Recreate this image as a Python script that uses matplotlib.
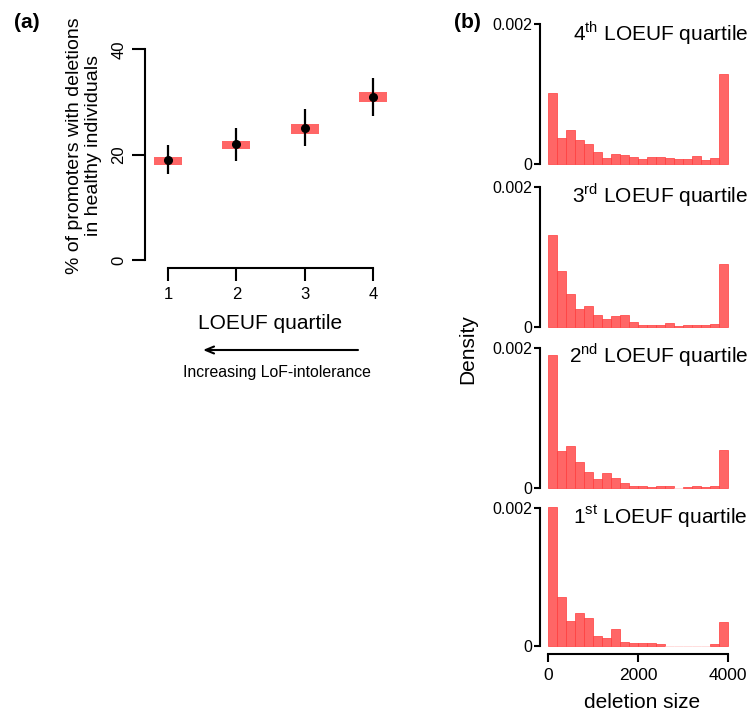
import matplotlib
matplotlib.use('Agg')
import matplotlib.pyplot as plt
import numpy as np

plt.rcParams['font.family'] = ['Liberation Sans', 'DejaVu Sans']
plt.rcParams['mathtext.fontset'] = 'custom'
plt.rcParams['mathtext.rm'] = 'Liberation Sans'

# panel (a): % of promoters with deletions per LOEUF quartile
quartiles = [1, 2, 3, 4]
pct = [19.0, 22.0, 25.0, 31.0]
err_lo = [16.3, 18.8, 21.6, 27.3]
err_hi = [21.8, 25.0, 28.7, 34.6]
box_lo = [18.1, 21.0, 24.0, 30.0]
box_hi = [19.5, 22.6, 25.8, 31.9]

# panel (b): deletion size densities, 20 bins of 200 bp from 0 to 4000
bin_edges = np.arange(0, 4001, 200)
density_q4 = [0.00101, 0.000376, 0.000488, 0.000347, 0.000291, 0.000174, 0.00008,
              0.000146, 0.000131, 0.000094, 0.000066, 0.000094, 0.000094, 0.00008,
              0.000066, 0.000066, 0.000108, 0.000052, 0.00008, 0.00128]
density_q3 = [0.00132, 0.000806, 0.000479, 0.000265, 0.000303, 0.00018, 0.000123,
              0.000166, 0.00018, 0.00008, 0.000038, 0.000038, 0.000038, 0.000066,
              0.000024, 0.000038, 0.000038, 0.000038, 0.000052, 0.000905]
density_q2 = [0.00189, 0.000536, 0.000607, 0.00038, 0.000237, 0.000137, 0.000223,
              0.000152, 0.00008, 0.000038, 0.000038, 0.000024, 0.000038, 0.000038,
              0.0, 0.000024, 0.000038, 0.000024, 0.000038, 0.00055]
density_q1 = [0.00202, 0.000712, 0.000353, 0.000482, 0.000396, 0.000138, 0.00011,
              0.000239, 0.000052, 0.000038, 0.000038, 0.000038, 0.000024, 0.0,
              0.0, 0.0, 0.0, 0.0, 0.000024, 0.00034]
hist_titles = [r'4$^{\mathrm{th}}$ LOEUF quartile', r'3$^{\mathrm{rd}}$ LOEUF quartile',
               r'2$^{\mathrm{nd}}$ LOEUF quartile', r'1$^{\mathrm{st}}$ LOEUF quartile']

W, H = 751, 713
PINK = '#ff6666'
fig = plt.figure(figsize=(W / 100, H / 100), dpi=100)


def px_axes(x0, y0, x1, y1):
    # pixel box (top-left origin) -> axes
    return fig.add_axes([x0 / W, 1 - y1 / H, (x1 - x0) / W, (y1 - y0) / H])


# ---- panel (a)
ax = px_axes(168, 49.3, 373, 260)
ax.set_xlim(1, 4)
ax.set_ylim(0, 40)
for q, lo, hi in zip(quartiles, box_lo, box_hi):
    ax.add_patch(plt.Rectangle((q - 0.205, lo), 0.41, hi - lo, color=PINK,
                               lw=0, clip_on=False))
ax.vlines(quartiles, err_lo, err_hi, color='black', lw=1.6, clip_on=False)
ax.plot(quartiles, pct, 'o', color='black', ms=5.5, clip_on=False)
for s in ['top', 'right']:
    ax.spines[s].set_visible(False)
ax.spines['left'].set_position(('outward', 16.6))
ax.spines['bottom'].set_position(('outward', 6))
ax.spines['left'].set_bounds(0, 40)
ax.spines['bottom'].set_bounds(1, 4)
for s in ['left', 'bottom']:
    ax.spines[s].set_linewidth(1.5)
ax.set_yticks([0, 20, 40])
ax.set_yticklabels(['0', '20', '40'], rotation=90, va='center')
ax.set_xticks(quartiles)
ax.tick_params(width=1.5, length=9.5, labelsize=12, pad=4)
ax.patch.set_visible(False)

fig.text(84 / W, 1 - 146 / H, '% of promoters with deletions\nin healthy individuals',
         rotation=90, ha='center', va='center', fontsize=14, linespacing=1.1)
fig.text(270 / W, 1 - 323 / H, 'LOEUF quartile', ha='center', va='center', fontsize=15)
ax.annotate('', xy=(203, H - 350), xytext=(358, H - 350),
            xycoords='figure pixels', textcoords='figure pixels',
            arrowprops=dict(arrowstyle='->,head_length=0.6,head_width=0.25',
                            color='black', lw=1.5, shrinkA=0, shrinkB=0))
fig.text(277 / W, 1 - 372 / H, 'Increasing LoF-intolerance', ha='center', va='center',
         fontsize=11.4)
fig.text(27 / W, 1 - 22 / H, '(a)', ha='center', va='center', fontsize=15,
         fontweight='bold')

# ---- panel (b)
boxes = [(24, 164), (187, 327.3), (347.7, 488.3), (508.3, 645.7)]
title_y = [33, 195, 355, 517]
densities = [density_q4, density_q3, density_q2, density_q1]
for i, (dens, (y0, y1)) in enumerate(zip(densities, boxes)):
    hx = px_axes(548, y0, 728, y1)
    edges = ['#ff3b3b' if d > 0 else '#ffd0d0' for d in dens]
    hx.bar(bin_edges[:-1], dens, width=200, align='edge', color=PINK,
           edgecolor=edges, lw=0.5, clip_on=False)
    hx.set_xlim(0, 4000)
    hx.set_ylim(0, 0.002)
    for s in ['top', 'right']:
        hx.spines[s].set_visible(False)
    hx.spines['left'].set_position(('outward', 5.8))
    hx.spines['left'].set_linewidth(1.5)
    hx.set_yticks([0, 0.002])
    hx.set_yticklabels(['0', '0.002'])
    hx.tick_params(axis='y', width=1.5, length=4.3, labelsize=11.5, pad=1.5)
    if i == 3:
        hx.spines['bottom'].set_position(('outward', 6))
        hx.spines['bottom'].set_linewidth(1.5)
        hx.set_xticks([0, 2000, 4000])
        hx.tick_params(axis='x', width=1.5, length=5.8, labelsize=12.5, pad=4)
    else:
        hx.spines['bottom'].set_visible(False)
        hx.set_xticks([])
    hx.patch.set_visible(False)
    fig.text(748 / W, 1 - title_y[i] / H, hist_titles[i], ha='right', va='center',
             fontsize=15)

fig.text(468 / W, 1 - 349 / H, 'Density', rotation=90, ha='center', va='center',
         fontsize=15)
fig.text(642 / W, 1 - 702 / H, 'deletion size', ha='center', va='center', fontsize=15)
fig.text(467 / W, 1 - 22 / H, '(b)', ha='center', va='center', fontsize=15,
         fontweight='bold')

fig.savefig('out.png', dpi=100)
